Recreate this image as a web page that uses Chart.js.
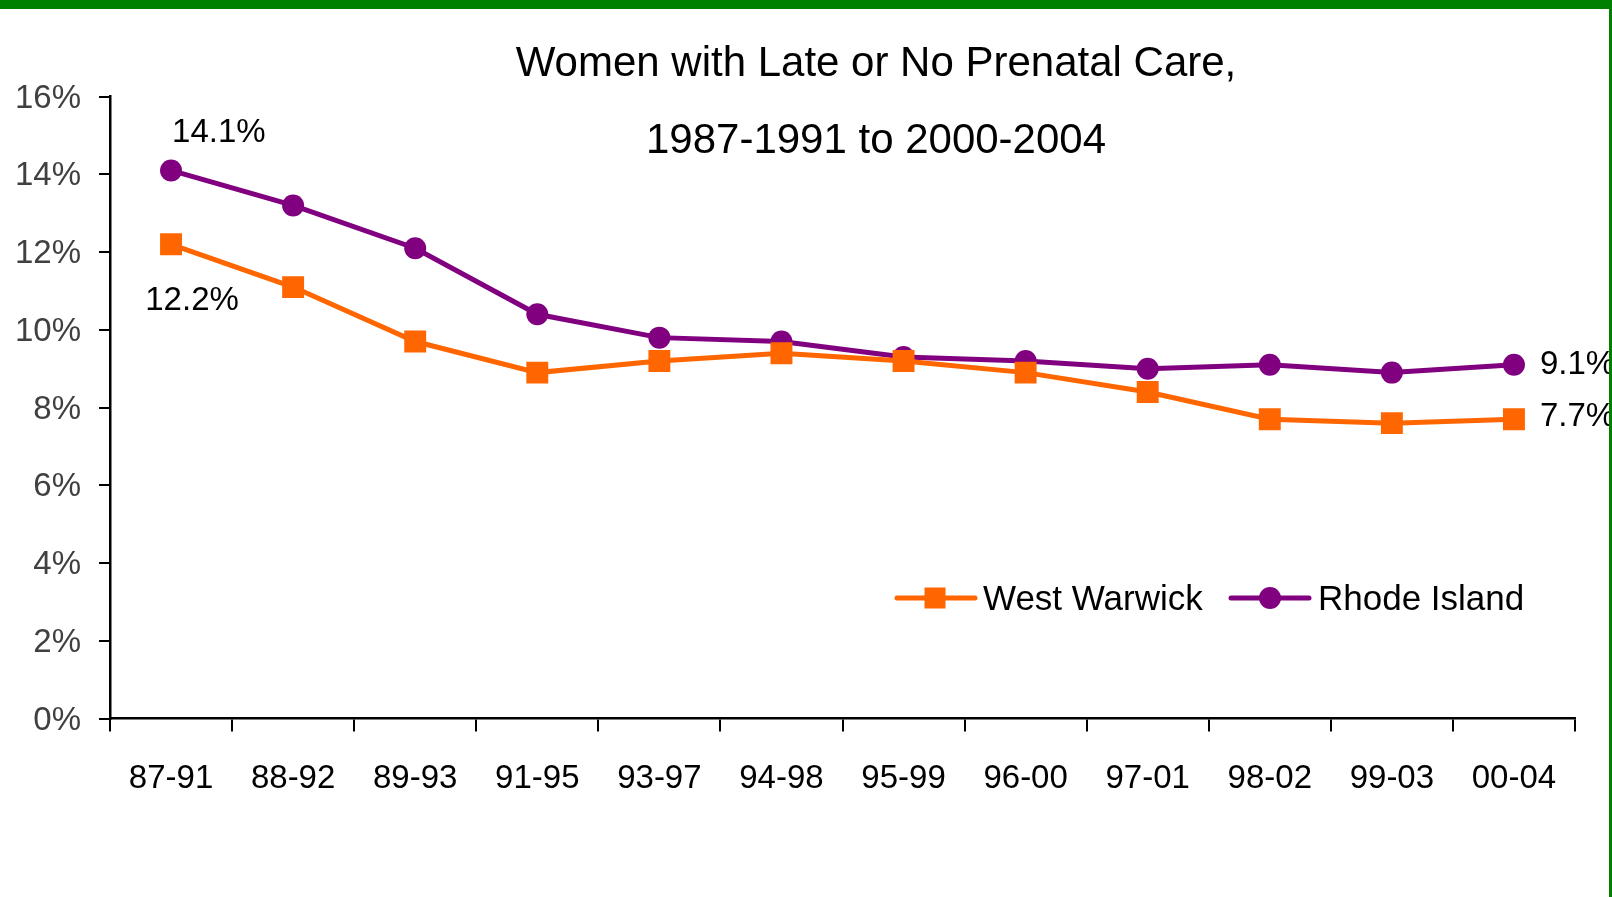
<!DOCTYPE html>
<html><head><meta charset="utf-8">
<script src="https://cdn.jsdelivr.net/npm/chart.js@4/dist/chart.umd.min.js"></script>
<style>
html,body{margin:0;padding:0;background:#fff;overflow:hidden}
#wrap{position:absolute;left:0;top:0;width:1612px;height:897px}
#topbar{position:absolute;left:0;top:0;width:1612px;height:9px;background:#008000}
#rightbar{position:absolute;left:1609px;top:0;width:3px;height:897px;background:#008000}
</style></head><body>
<div id="wrap"><canvas id="c" width="1612" height="897"></canvas></div>
<div id="topbar"></div><div id="rightbar"></div>
<script>
const categories = ['87-91','88-92','89-93','91-95','93-97','94-98','95-99','96-00','97-01','98-02','99-03','00-04'];
const westWarwick = [12.2, 11.1, 9.7, 8.9, 9.2, 9.4, 9.2, 8.9, 8.4, 7.7, 7.6, 7.7];
const rhodeIsland = [14.1, 13.2, 12.1, 10.4, 9.8, 9.7, 9.3, 9.2, 9.0, 9.1, 8.9, 9.1];
const seriesNames = ['West Warwick', 'Rhode Island'];
const titleLines = ['Women with Late or No Prenatal Care,', '1987-1991 to 2000-2004'];
const yMin = 0, yMax = 16, yStep = 2;

const ORANGE = '#FF6600', PURPLE = '#800080';
const FONT = "'Liberation Sans', Arial, sans-serif";
Chart.defaults.font.family = FONT;

const overlay = {
  id: 'overlay',
  afterDraw(chart) {
    const ctx = chart.ctx;
    ctx.save();
    // title
    ctx.fillStyle = '#000';
    ctx.font = '42px ' + FONT;
    ctx.textAlign = 'center';
    ctx.textBaseline = 'middle';
    ctx.fillText(titleLines[0], 876, 64);
    ctx.fillText(titleLines[1], 876, 141);

    // data labels
    ctx.font = '33px ' + FONT;
    const ww = chart.getDatasetMeta(0).data;
    const ri = chart.getDatasetMeta(1).data;
    const fmt = v => v.toFixed(1) + '%';
    const n = categories.length;
    ctx.textAlign = 'left';
    ctx.fillText(fmt(rhodeIsland[0]), ri[0].x + 1, ri[0].y - 38);
    ctx.textAlign = 'center';
    ctx.fillText(fmt(westWarwick[0]), ww[0].x + 21, ww[0].y + 57);
    ctx.textAlign = 'left';
    ctx.fillText(fmt(rhodeIsland[n-1]), ri[n-1].x + 26, ri[n-1].y);
    ctx.fillText(fmt(westWarwick[n-1]), ww[n-1].x + 26, ww[n-1].y - 2);

    // legend
    const ly = 598;
    ctx.lineCap = 'round';
    ctx.lineWidth = 5;
    ctx.strokeStyle = ORANGE;
    ctx.beginPath(); ctx.moveTo(897, ly); ctx.lineTo(975, ly); ctx.stroke();
    ctx.fillStyle = ORANGE;
    ctx.fillRect(935 - 10.5, ly - 10.5, 21, 21);
    ctx.strokeStyle = PURPLE;
    ctx.beginPath(); ctx.moveTo(1231, ly); ctx.lineTo(1309, ly); ctx.stroke();
    ctx.fillStyle = PURPLE;
    ctx.beginPath(); ctx.arc(1270, ly, 11, 0, Math.PI * 2); ctx.fill();
    ctx.fillStyle = '#000';
    ctx.font = '35px ' + FONT;
    ctx.textAlign = 'left';
    ctx.textBaseline = 'middle';
    ctx.fillText(seriesNames[0], 983, ly + 2);
    ctx.fillText(seriesNames[1], 1318, ly + 2);
    ctx.restore();
  }
};

new Chart(document.getElementById('c'), {
  type: 'line',
  data: {
    labels: categories,
    datasets: [
      { label: seriesNames[0], data: westWarwick, borderColor: ORANGE, backgroundColor: ORANGE,
        borderWidth: 5, pointStyle: 'rect', pointRadius: 15.5, pointHoverRadius: 15.5,
        pointBorderWidth: 0, tension: 0, fill: false },
      { label: seriesNames[1], data: rhodeIsland, borderColor: PURPLE, backgroundColor: PURPLE,
        borderWidth: 5, pointStyle: 'circle', pointRadius: 11, pointHoverRadius: 11,
        pointBorderWidth: 0, tension: 0, fill: false }
    ]
  },
  options: {
    responsive: false,
    animation: false,
    devicePixelRatio: 1,
    layout: { padding: { left: 0, top: 96.6, right: 37, bottom: 98.4 } },
    plugins: { legend: { display: false }, title: { display: false }, tooltip: { enabled: false } },
    scales: {
      x: {
        type: 'category',
        offset: true,
        grid: { offset: true, drawOnChartArea: false, drawTicks: true, tickLength: 13, color: '#000', lineWidth: 2 },
        border: { display: true, color: '#000', width: 2.5 },
        ticks: { color: '#000', font: { size: 33 }, padding: 28, maxRotation: 0, autoSkip: false },
        afterFit(scale) { scale.height = 80; }
      },
      y: {
        min: yMin, max: yMax,
        grid: { drawOnChartArea: false, drawTicks: true, tickLength: 11, color: '#000', lineWidth: 2 },
        border: { display: true, color: '#000', width: 2.5 },
        ticks: { stepSize: yStep, color: '#404040', font: { size: 33 }, padding: 18, labelOffset: 2,
                 callback: v => v + '%' },
        afterFit(scale) { scale.width = 110; }
      }
    }
  },
  plugins: [overlay]
});
</script>
</body></html>
